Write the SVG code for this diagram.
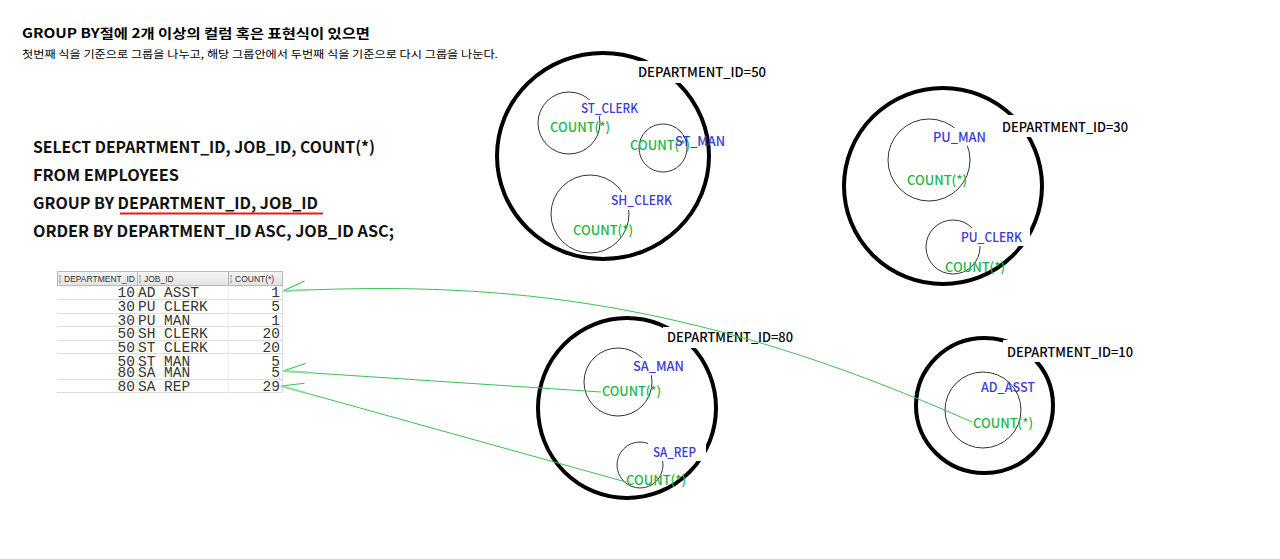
<svg xmlns="http://www.w3.org/2000/svg" width="1280" height="559" viewBox="0 0 1280 559">
<defs>
<style>
.t1{font-family:"Noto Sans CJK KR","Noto Sans",sans-serif;font-weight:bold;font-size:13px;fill:#000}
.t2{font-family:"Noto Sans CJK KR","Noto Sans",sans-serif;font-size:10px;fill:#000}
.sql{font-family:"Noto Sans CJK KR","Noto Sans",sans-serif;font-weight:bold;font-size:16px;fill:#111}
.hd{font-family:"Liberation Sans",Arial,sans-serif;font-size:8.5px;fill:#333}
.cell{font-family:"Liberation Mono","Courier New",monospace;font-size:14.5px;fill:#3a3530}
.num{text-anchor:end}
.dept{font-family:"Noto Sans CJK KR","Noto Sans",sans-serif;font-size:13px;font-weight:500;fill:#000}
.job{font-family:"Noto Sans CJK KR","Noto Sans",sans-serif;font-size:13px;font-weight:500;fill:#3a3ad6}
.cnt{font-family:"Noto Sans CJK KR","Noto Sans",sans-serif;font-size:13px;font-weight:500;fill:#1db546}
.big{fill:none;stroke:#000;stroke-width:4}
.small{fill:none;stroke:#333;stroke-width:1}
.bg{fill:#fff}
.conn{fill:none;stroke:#3cbf55;stroke-width:1}
.rowl{stroke:#dcdcdc;stroke-width:1}
</style>
<linearGradient id="hdg" x1="0" y1="0" x2="0" y2="1">
<stop offset="0" stop-color="#f6f6f6"/><stop offset="1" stop-color="#e2e2e2"/>
</linearGradient>
<marker id="barb" markerUnits="userSpaceOnUse" markerWidth="40" markerHeight="40" refX="0" refY="20" viewBox="0 0 40 40" orient="auto" overflow="visible">
<path d="M0,20 L22,11" fill="none" stroke="#3cbf55" stroke-width="1"/>
<path d="M0,20 L26,20" fill="none" stroke="#8fdb9c" stroke-width="2.2"/>
</marker>
</defs>
<rect width="1280" height="559" fill="#fff"/>

<g id="title">
<text class="t1" x="22" y="38" textLength="348" lengthAdjust="spacingAndGlyphs">GROUP BY절에 2개 이상의 컬럼 혹은 표현식이 있으면</text>
<text class="t2" x="22" y="58" textLength="476" lengthAdjust="spacingAndGlyphs">첫번째 식을 기준으로 그룹을 나누고, 해당 그룹안에서 두번째 식을 기준으로 다시 그룹을 나눈다.</text>
</g>

<g id="sql">
<text class="sql" x="33" y="153" textLength="342" lengthAdjust="spacingAndGlyphs">SELECT DEPARTMENT_ID, JOB_ID, COUNT(*)</text>
<text class="sql" x="33" y="181" textLength="146" lengthAdjust="spacingAndGlyphs">FROM EMPLOYEES</text>
<text class="sql" x="33" y="209" textLength="285" lengthAdjust="spacingAndGlyphs">GROUP BY DEPARTMENT_ID, JOB_ID</text>
<text class="sql" x="33" y="237" textLength="361" lengthAdjust="spacingAndGlyphs">ORDER BY DEPARTMENT_ID ASC, JOB_ID ASC;</text>
<line x1="120" y1="213.5" x2="323" y2="213.5" stroke="#e01c1c" stroke-width="2"/>
</g>

<g id="table">
<rect x="57.5" y="271.5" width="225" height="14" fill="url(#hdg)" stroke="#b8b8b8"/>
<line x1="137.5" y1="271" x2="137.5" y2="286" stroke="#b8b8b8"/>
<line x1="228.5" y1="271" x2="228.5" y2="286" stroke="#b8b8b8"/>
<g fill="none" stroke="#9a9a9a" stroke-width="0.8">
<path d="M60,276 v6 M59,276.5 l1,-1.5 1,1.5 M59,281.5 l1,1.5 1,-1.5"/>
<path d="M140,276 v6 M139,276.5 l1,-1.5 1,1.5 M139,281.5 l1,1.5 1,-1.5"/>
<path d="M231,276 v6 M230,276.5 l1,-1.5 1,1.5 M230,281.5 l1,1.5 1,-1.5"/>
</g>
<text class="hd" x="64" y="282">DEPARTMENT_ID</text>
<text class="hd" x="144" y="282">JOB_ID</text>
<text class="hd" x="235" y="282">COUNT(*)</text>
<g class="rowl">
<line x1="57" y1="299.5" x2="283" y2="299.5"/>
<line x1="57" y1="313.5" x2="283" y2="313.5"/>
<line x1="57" y1="326.5" x2="283" y2="326.5"/>
<line x1="57" y1="340.5" x2="283" y2="340.5"/>
<line x1="57" y1="353.5" x2="283" y2="353.5"/>
<line x1="57" y1="379.5" x2="283" y2="379.5"/>
<line x1="57" y1="392.5" x2="283" y2="392.5"/>
<line x1="282.5" y1="286" x2="282.5" y2="393"/>
<line x1="137.5" y1="286" x2="137.5" y2="393" stroke="#eeeeee"/>
<line x1="228.5" y1="286" x2="228.5" y2="393" stroke="#eeeeee"/>
</g>
<g class="cell">
<text class="num" x="135" y="297">10</text><text x="138" y="297">AD ASST</text><text class="num" x="280" y="297">1</text>
<text class="num" x="135" y="311">30</text><text x="138" y="311">PU CLERK</text><text class="num" x="280" y="311">5</text>
<text class="num" x="135" y="324.5">30</text><text x="138" y="324.5">PU MAN</text><text class="num" x="280" y="324.5">1</text>
<text class="num" x="135" y="338">50</text><text x="138" y="338">SH CLERK</text><text class="num" x="280" y="338">20</text>
<text class="num" x="135" y="352">50</text><text x="138" y="352">ST CLERK</text><text class="num" x="280" y="352">20</text>
<text class="num" x="135" y="365.5">50</text><text x="138" y="365.5">ST MAN</text><text class="num" x="280" y="365.5">5</text>
<text class="num" x="135" y="377">80</text><text x="138" y="377">SA MAN</text><text class="num" x="280" y="377">5</text>
<text class="num" x="135" y="390.5">80</text><text x="138" y="390.5">SA REP</text><text class="num" x="280" y="390.5">29</text>
</g>
</g>

<g id="dept50">
<ellipse class="big" cx="603" cy="156" rx="106" ry="103"/>
<rect class="bg" x="636" y="61" width="134" height="22"/>
<text class="dept" x="638" y="77" textLength="128" lengthAdjust="spacingAndGlyphs">DEPARTMENT_ID=50</text>
<g id="st_clerk">
<circle class="small" cx="569" cy="123" r="31"/>
<rect class="bg" x="578" y="100" width="62" height="16"/>
<text class="job" x="581" y="113" textLength="57" lengthAdjust="spacingAndGlyphs">ST_CLERK</text>
<text class="cnt" x="550" y="132" textLength="60" lengthAdjust="spacingAndGlyphs">COUNT(*)</text>
</g>
<g id="st_man">
<circle class="small" cx="663" cy="148" r="24"/>
<text class="cnt" x="630" y="150" textLength="60" lengthAdjust="spacingAndGlyphs">COUNT(*)</text>
<text class="job" x="675" y="146" textLength="50" lengthAdjust="spacingAndGlyphs">ST_MAN</text>
</g>
<g id="sh_clerk">
<circle class="small" cx="590" cy="214" r="39"/>
<rect class="bg" x="608" y="192" width="66" height="18"/>
<text class="job" x="611" y="205" textLength="61" lengthAdjust="spacingAndGlyphs">SH_CLERK</text>
<text class="cnt" x="573" y="235" textLength="60" lengthAdjust="spacingAndGlyphs">COUNT(*)</text>
</g>
</g>

<g id="dept30">
<ellipse class="big" cx="943" cy="186" rx="99" ry="98"/>
<rect class="bg" x="998" y="115" width="135" height="22"/>
<text class="dept" x="1002" y="132" textLength="126" lengthAdjust="spacingAndGlyphs">DEPARTMENT_ID=30</text>
<g id="pu_man">
<circle class="small" cx="929" cy="160" r="41"/>
<rect class="bg" x="930" y="128" width="60" height="18"/>
<text class="job" x="933" y="142" textLength="53" lengthAdjust="spacingAndGlyphs">PU_MAN</text>
<text class="cnt" x="907" y="185" textLength="60" lengthAdjust="spacingAndGlyphs">COUNT(*)</text>
</g>
<g id="pu_clerk">
<circle class="small" cx="953" cy="247" r="27"/>
<rect class="bg" x="958" y="228" width="72" height="18"/>
<text class="job" x="961" y="242" textLength="61" lengthAdjust="spacingAndGlyphs">PU_CLERK</text>
<text class="cnt" x="945" y="272" textLength="60" lengthAdjust="spacingAndGlyphs">COUNT(*)</text>
</g>
</g>

<g id="dept80">
<ellipse class="big" cx="627" cy="408" rx="89" ry="90"/>
<rect class="bg" x="663" y="327" width="134" height="21"/>
<text class="dept" x="667" y="342" textLength="126" lengthAdjust="spacingAndGlyphs">DEPARTMENT_ID=80</text>
<g id="sa_man">
<circle class="small" cx="618" cy="382" r="34"/>
<rect class="bg" x="630" y="358" width="58" height="17"/>
<text class="job" x="633" y="371" textLength="51" lengthAdjust="spacingAndGlyphs">SA_MAN</text>
<text class="cnt" x="602" y="396" textLength="59" lengthAdjust="spacingAndGlyphs">COUNT(*)</text>
</g>
<g id="sa_rep">
<circle class="small" cx="640" cy="465" r="23"/>
<rect class="bg" x="648" y="443" width="58" height="18"/>
<text class="job" x="653" y="457" textLength="43" lengthAdjust="spacingAndGlyphs">SA_REP</text>
<text class="cnt" x="626" y="485" textLength="60" lengthAdjust="spacingAndGlyphs">COUNT(*)</text>
</g>
</g>

<g id="dept10">
<ellipse class="big" cx="984.5" cy="405.5" rx="68.5" ry="67.5"/>
<rect class="bg" x="1003" y="340" width="134" height="22"/>
<text class="dept" x="1007" y="357" textLength="126" lengthAdjust="spacingAndGlyphs">DEPARTMENT_ID=10</text>
<g id="ad_asst">
<circle class="small" cx="983" cy="410" r="38"/>
<text class="job" x="981" y="392" textLength="54" lengthAdjust="spacingAndGlyphs">AD_ASST</text>
<text class="cnt" x="973" y="428" textLength="60" lengthAdjust="spacingAndGlyphs">COUNT(*)</text>
</g>
</g>

<g id="connectors">
<path class="conn" marker-start="url(#barb)" d="M283,291 C480,282 680,292 972,422"/>
<path class="conn" marker-start="url(#barb)" d="M283,371 L601,392"/>
<path class="conn" marker-start="url(#barb)" d="M281,386 L626,482"/>
</g>
</svg>
